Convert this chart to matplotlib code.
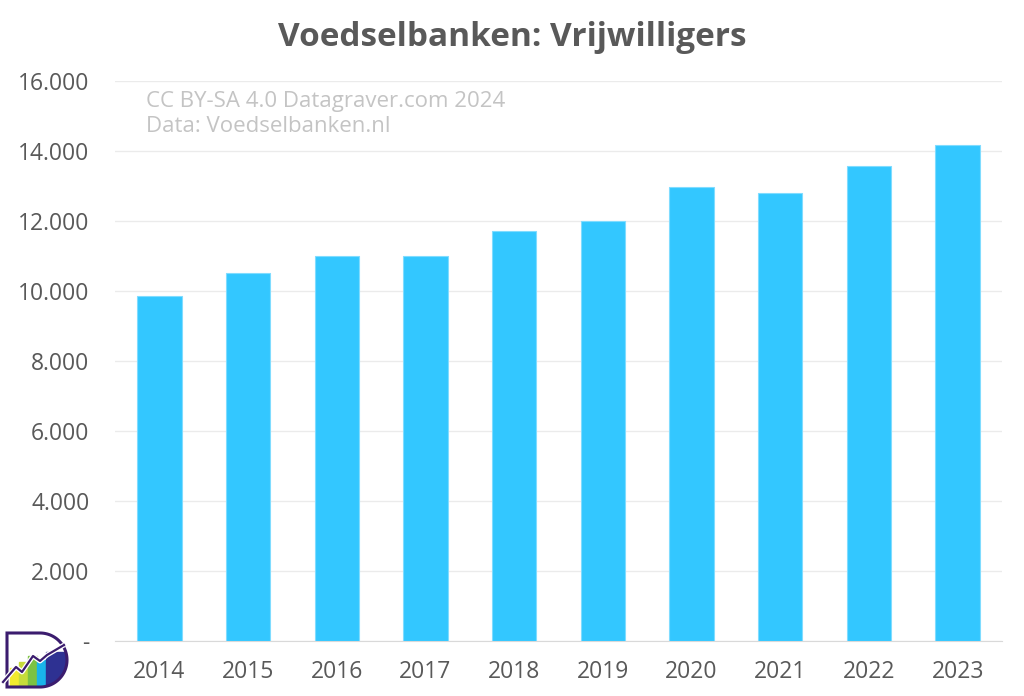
import numpy as np
import matplotlib.pyplot as plt
import matplotlib.patches as mpatches
from matplotlib.ticker import FuncFormatter

years = ['2014', '2015', '2016', '2017', '2018', '2019', '2020', '2021', '2022', '2023']
vrijwilligers = [9870, 10500, 10990, 11000, 11700, 12000, 12980, 12800, 13580, 14170]

plt.rcParams['font.family'] = ['Open Sans', 'DejaVu Sans']

fig = plt.figure(figsize=(10.24, 6.96), dpi=100)
ax = fig.add_axes([115 / 1024, 1 - 641 / 696, 887 / 1024, 560 / 696])

ax.bar(range(len(years)), vrijwilligers, width=0.5, color='#33c7ff',
       edgecolor='#80dcff', linewidth=0.8, zorder=3)

ax.set_xlim(-0.5, len(years) - 0.5)
ax.set_ylim(0, 16000)
ax.set_yticks(range(0, 16001, 2000))
ax.yaxis.set_major_formatter(FuncFormatter(
    lambda v, p: '-' if v == 0 else f'{int(v):,}'.replace(',', '.')))
ax.set_xticks(range(len(years)))
ax.set_xticklabels(years)

ax.grid(axis='y', color='#ebebeb', linewidth=1, zorder=0)
for s in ['top', 'right', 'left']:
    ax.spines[s].set_visible(False)
ax.spines['bottom'].set_color('#d9d9d9')
ax.tick_params(axis='both', length=0, labelsize=16.5, colors='#595959')
ax.tick_params(axis='y', pad=18.5)
ax.tick_params(axis='x', pad=14)

fig.text(0.5, 1 - 38 / 696, 'Voedselbanken: Vrijwilligers', ha='center', va='center',
         fontsize=24, fontweight='bold', color='#595959')

fig.text(146 / 1024, 1 - 101 / 696, 'CC BY-SA 4.0 Datagraver.com 2024',
         ha='left', va='center', fontsize=16, color='#c4c4c4')
fig.text(146 / 1024, 1 - 127 / 696, 'Data: Voedselbanken.nl',
         ha='left', va='center', fontsize=16, color='#c4c4c4')

# logo bottom-left (pixel coords, y up)
lax = fig.add_axes([0, 0, 80 / 1024, 76 / 696])
lax.set_xlim(0, 80)
lax.set_ylim(0, 76)
lax.axis('off')
t = np.linspace(-np.pi / 2, np.pi / 2, 60)
d_pts = [(7, 9)] + list(zip(40 + 27 * np.cos(t), 36 + 27 * np.sin(t))) + [(7, 63)]
d_clip = mpatches.Polygon(d_pts, closed=True, facecolor='none', edgecolor='none')
lax.add_patch(d_clip)
logo_cols = ['#f2ea2e', '#c6dc3a', '#7cc242', '#19b4ea', '#2e3192']
logo_x = [10, 19, 28, 37, 46]
logo_top = [28, 34, 40, 36, 44]
for x0, h, c in zip(logo_x, logo_top, logo_cols):
    r = mpatches.Rectangle((x0, 9), 9 if x0 < 46 else 20, h - 9, color=c)
    lax.add_patch(r)
    r.set_clip_path(d_clip)
lax.add_patch(mpatches.Polygon(d_pts, closed=True, facecolor='none',
                               edgecolor='#3b1c6e', linewidth=2.2))
line_x = [3, 16, 22, 33, 40, 47, 64]
line_y = [14, 29, 24, 40, 35, 41, 51]
lax.plot(line_x, line_y, color='white', lw=3.5, solid_capstyle='butt')
lax.plot(line_x, line_y, color='#3b1c6e', lw=1.6)

fig.savefig('out.png', dpi=100, facecolor='white')
